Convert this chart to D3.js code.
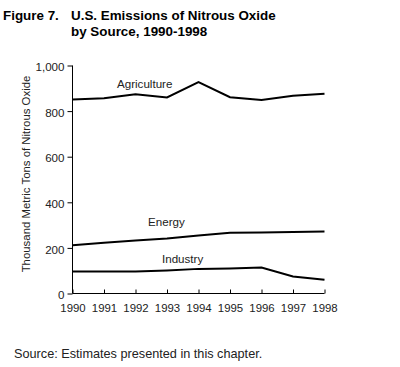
<!DOCTYPE html>
<html><head><meta charset="utf-8">
<script src="https://cdn.jsdelivr.net/npm/d3@7"></script>
<style>body{margin:0;background:#fff}svg{display:block}text{font-family:"Liberation Sans",Arial,sans-serif}</style>
</head><body>
<script>
const years = [1990,1991,1992,1993,1994,1995,1996,1997,1998];
const agriculture = [851,856,874,860,927,861,849,867,876];
const energy = [212,223,232,241,254,266,267,270,272];
const industry = [96,96,97,101,108,110,114,75,60];
const yTicks = [0,200,400,600,800,1000];
const seriesNames = ["Agriculture","Energy","Industry"];

const W=400,H=367;
const svg=d3.select("body").append("svg").attr("width",W).attr("height",H);
const x=d3.scalePoint().domain(years).range([72.5,324.5]);
const y=d3.scaleLinear().domain([0,1000]).range([293.5,65.5]);

// title
svg.append("text").attr("x",3).attr("y",20).attr("font-size",13.4).attr("font-weight","bold").text("Figure 7.");
svg.append("text").attr("x",71).attr("y",20).attr("font-size",13.4).attr("font-weight","bold").text("U.S. Emissions of Nitrous Oxide");
svg.append("text").attr("x",71).attr("y",36).attr("font-size",13.4).attr("font-weight","bold").text("by Source, 1990-1998");

// y axis
const ya=svg.append("g").attr("transform","translate(72.5,0)")
  .call(d3.axisLeft(y).tickValues(yTicks).tickSize(5).tickPadding(3).tickFormat(d3.format(",")));
ya.selectAll("text").attr("font-size",11.6).attr("fill","#222").attr("dy","0.45em").style("font-family","Liberation Sans, Arial, sans-serif");
ya.selectAll("line,path").attr("stroke","#000");
ya.select("path").attr("d","M0,293.5V65.5");

// x axis
const xa=svg.append("g").attr("transform","translate(0,293.5)")
  .call(d3.axisBottom(x).tickSize(-4).tickPadding(10).tickFormat(d3.format("d")));
xa.selectAll("text").attr("font-size",11.4).attr("fill","#222").style("font-family","Liberation Sans, Arial, sans-serif");
xa.selectAll("line,path").attr("stroke","#000");
xa.select("path").attr("d","M72.5,0H324.5");

// y label
svg.append("text").attr("transform","translate(30,174) rotate(-90)").attr("text-anchor","middle")
  .attr("font-size",11.4).attr("fill","#222").text("Thousand Metric Tons of Nitrous Oxide");

const line=d3.line().x((d,i)=>x(years[i])).y(d=>y(d));
[agriculture,energy,industry].forEach(s=>{
  svg.append("path").datum(s).attr("d",line).attr("fill","none").attr("stroke","#000").attr("stroke-width",2);
});

const labelPos=[[117,88],[148,226],[162,263]];
seriesNames.forEach((n,i)=>{
  svg.append("text").attr("x",labelPos[i][0]).attr("y",labelPos[i][1]).attr("font-size",11.6).attr("fill","#222").text(n);
});

svg.append("text").attr("x",14).attr("y",358).attr("font-size",12.7).attr("fill","#222").text("Source: Estimates presented in this chapter.");
</script>
</body></html>
